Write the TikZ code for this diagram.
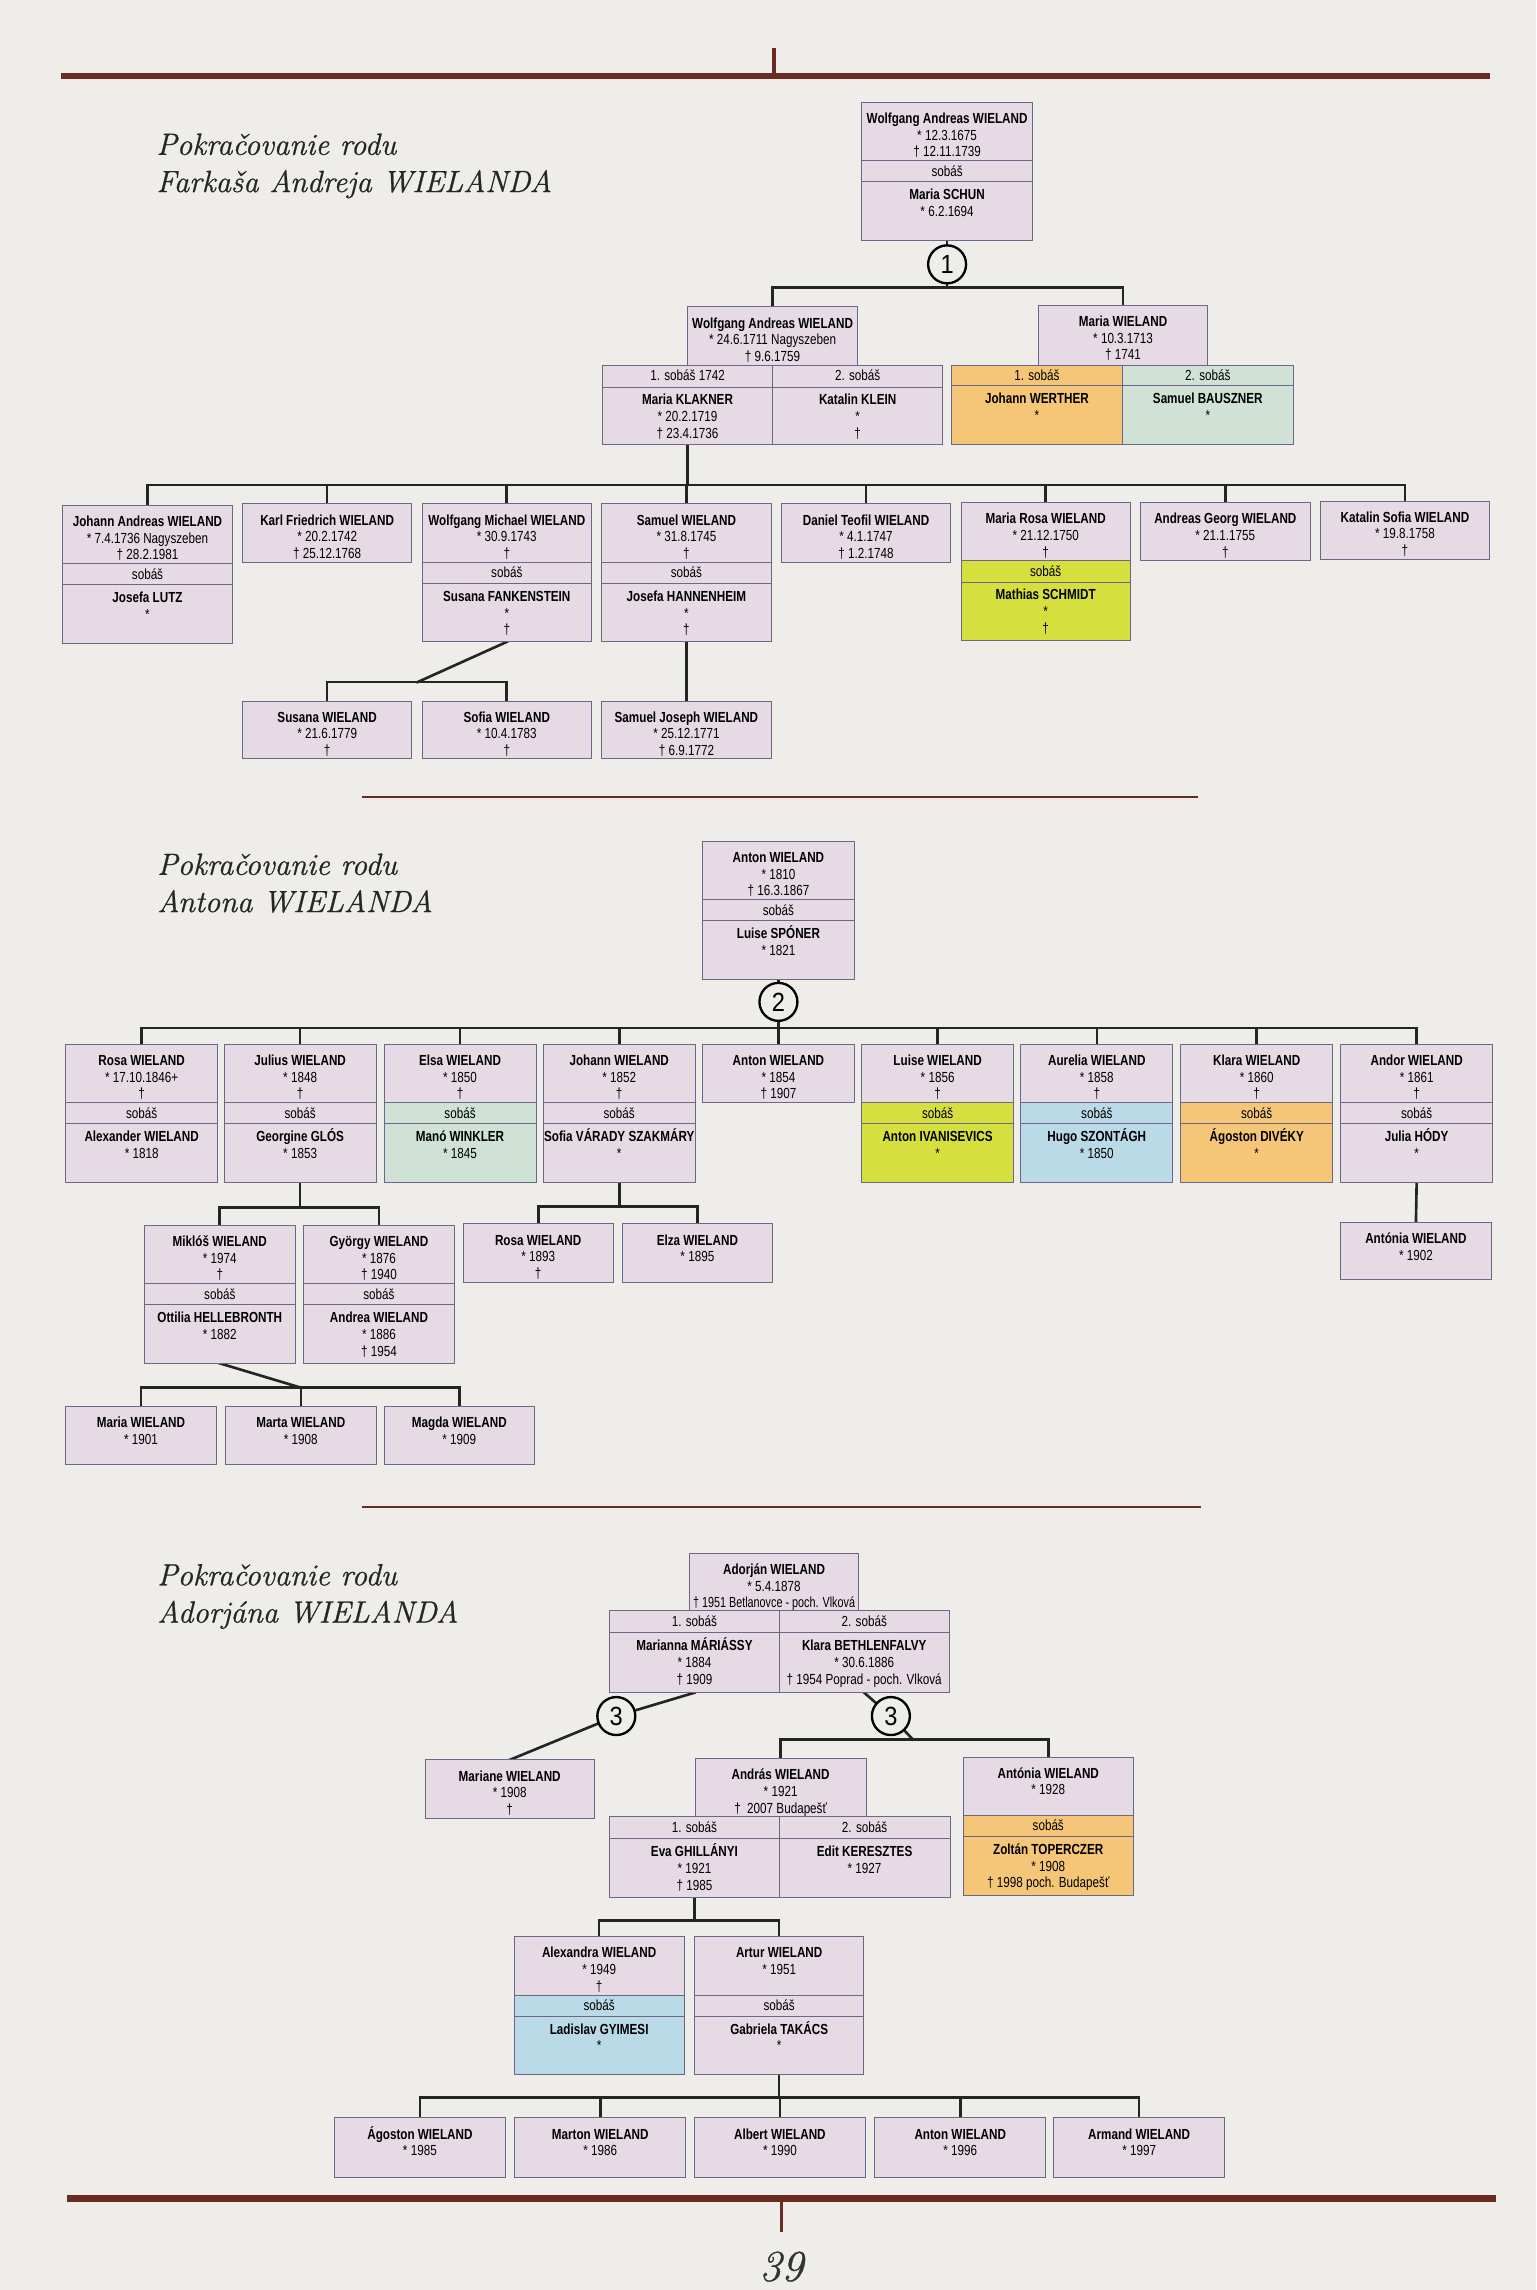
\documentclass[tikz,border=0pt]{standalone}
\usepackage{fontspec}
\newfontfamily\boxfont{Liberation Sans}[FakeStretch=0.8]
\newfontfamily\circfont{Liberation Sans}[FakeStretch=0.9]
\newfontfamily\titlefont{Latin Modern Roman}[FakeBold=0.8]

\definecolor{paper}{HTML}{EEEDEA}
\definecolor{boxfill}{HTML}{E6DAE4}
\definecolor{boxline}{HTML}{6C6786}
\definecolor{orangey}{HTML}{F5C677}
\definecolor{minty}{HTML}{CFE2D5}
\definecolor{limey}{HTML}{D5E03E}
\definecolor{skyey}{HTML}{B9DAE6}
\definecolor{rulec}{HTML}{6A2B22}
\definecolor{linkc}{HTML}{242424}

\pgfdeclarelayer{paperlayer}
\pgfdeclarelayer{wires}
\pgfsetlayers{paperlayer,wires,main}

\tikzset{
  pcell/.style={draw=boxline, fill=#1, line width=0.6pt, inner sep=0pt, outer sep=0pt,
    anchor=north west, font=\boxfont\fontsize{10}{11.4}\selectfont},
  pcell/.default=boxfill,
  link/.style={draw=linkc, line width=1.8pt, line cap=rect},
  circ/.style={circle, draw=black, line width=1.6pt, fill=paper, minimum size=26pt,
    inner sep=0pt, font=\circfont\fontsize{18}{18}\selectfont},
  sect/.style={font=\titlefont\itshape\fontsize{21}{25}\selectfont, text=black!85,
    anchor=base west, inner sep=0pt},
}

% name in bold, cell of fixed size with text from the top
\newcommand{\who}[1]{{\bfseries #1}}
\newcommand{\tight}[1]{{\addfontfeature{FakeStretch=0.74}#1}}
\newcommand{\cbox}[4][14.6]{\parbox[c][#3pt][t]{#2pt}{\centering\rule{0pt}{#1pt}#4}}
\newcommand{\personbox}[6][40]{\node[pcell] (#2) at (#3,#4) {\cbox{#5}{#1}{#6}};}
\newcommand{\couplebox}[7]{%
  \node[pcell] (#1) at (#2,#3) {\cbox{#4}{40}{#6}};
  \node[pcell=#5] (#1m) at (#1.south west) {\cbox[10.6]{#4}{14.5}{sobáš}};
  \node[pcell=#5] (#1s) at (#1m.south west) {\cbox[12.3]{#4}{40}{#7}};}

\begin{document}
\begin{tikzpicture}[x=1pt,y=-1pt]
\begin{pgfonlayer}{paperlayer}
  \fill[paper] (0,0) rectangle (1052,1568);
\end{pgfonlayer}
\useasboundingbox (0,0) rectangle (1052,1568);

% page rules
\draw[rulec, line width=4.5pt] (42,52) -- (1020,52);
\draw[rulec, line width=2.2pt] (530,33) -- (530,52);

% ---- Farkas Andrej
\node[sect] (t1a) at (107,106) {Pokračovanie rodu};
\node[sect] (t1b) at (107,131.5) {Farkaša Andreja WIELANDA};

\couplebox{wa1}{590}{70}{117}{boxfill}{\who{Wolfgang Andreas WIELAND}\\{*} 12.3.1675\\† 12.11.1739}{\who{Maria SCHUN}\\{*} 6.2.1694}
\node[circ] (c1) at (648.5,181) {1};

\personbox{wa2}{471}{210}{116}{\who{Wolfgang Andreas WIELAND}\\{*} 24.6.1711 Nagyszeben\\† 9.6.1759}
\node[pcell] (wa2a) at (412.5,250) {\cbox[10.8]{116.5}{15}{1. sobáš 1742}};
\node[pcell] (wa2b) at (wa2a.north east) {\cbox[10.8]{116.5}{15}{2. sobáš}};
\node[pcell] (klak) at (wa2a.south west) {\cbox[12.3]{116.5}{39}{\who{Maria KLAKNER}\\{*} 20.2.1719\\† 23.4.1736}};
\node[pcell] (klei) at (wa2b.south west) {\cbox[12.3]{116.5}{39}{\who{Katalin KLEIN}\\{*}\\†}};

\personbox[41]{mw}{711}{209}{116}{\who{Maria WIELAND}\\{*} 10.3.1713\\† 1741}
\node[pcell=orangey] (mwa) at (651.5,250) {\cbox[10.6]{117}{14}{1. sobáš}};
\node[pcell=minty] (mwb) at (mwa.north east) {\cbox[10.6]{117}{14}{2. sobáš}};
\node[pcell=orangey] (wert) at (mwa.south west) {\cbox[12.3]{117}{40}{\who{Johann WERTHER}\\{*}}};
\node[pcell=minty] (baus) at (mwb.south west) {\cbox[12.3]{117}{40}{\who{Samuel BAUSZNER}\\{*}}};

\couplebox{ja}{43}{346}{116}{boxfill}{\who{Johann Andreas WIELAND}\\{*} 7.4.1736 Nagyszeben\\† 28.2.1981}{\who{Josefa LUTZ}\\{*}}
\personbox{kf}{166}{345}{116}{\who{Karl Friedrich WIELAND}\\{*} 20.2.1742\\† 25.12.1768}
\couplebox{wm}{289}{345}{116}{boxfill}{\who{Wolfgang Michael WIELAND}\\{*} 30.9.1743\\†}{\who{Susana FANKENSTEIN}\\{*}\\†}
\couplebox{sa}{412}{345}{116}{boxfill}{\who{Samuel WIELAND}\\{*} 31.8.1745\\†}{\who{Josefa HANNENHEIM}\\{*}\\†}
\personbox{dt}{535}{345}{116}{\who{Daniel Teofil WIELAND}\\{*} 4.1.1747\\† 1.2.1748}
\couplebox{mr}{658}{344}{116}{limey}{\who{Maria Rosa WIELAND}\\{*} 21.12.1750\\†}{\who{Mathias SCHMIDT}\\{*}\\†}
\personbox{ag}{781}{344}{116}{\who{Andreas Georg WIELAND}\\{*} 21.1.1755\\†}
\personbox{ks}{904}{343}{116}{\who{Katalin Sofia WIELAND}\\{*} 19.8.1758\\†}

\personbox[39]{su}{166}{480}{116}{\who{Susana WIELAND}\\{*} 21.6.1779\\†}
\personbox[39]{so}{289}{480}{116}{\who{Sofia WIELAND}\\{*} 10.4.1783\\†}
\personbox[39]{sj}{412}{480}{116}{\who{Samuel Joseph WIELAND}\\{*} 25.12.1771\\† 6.9.1772}

\draw[rulec, line width=1.4pt] (248,546) -- (820,546);

% ---- Anton
\node[sect] (t2a) at (107.5,599) {Pokračovanie rodu};
\node[sect] (t2b) at (107.5,624.5) {Antona WIELANDA};

\couplebox{an0}{481}{576}{104}{boxfill}{\who{Anton WIELAND}\\{*} 1810\\† 16.3.1867}{\who{Luise SPÓNER}\\{*} 1821}
\node[circ] (c2) at (533,686) {2};

\couplebox{ro}{45}{715}{104}{boxfill}{\who{Rosa WIELAND}\\{*} 17.10.1846+\\†}{\who{Alexander WIELAND}\\{*} 1818}
\couplebox{ju}{153.5}{715}{104}{boxfill}{\who{Julius WIELAND}\\{*} 1848\\†}{\who{Georgine GLÓS}\\{*} 1853}
\couplebox{el}{263}{715}{104}{minty}{\who{Elsa WIELAND}\\{*} 1850\\†}{\who{Manó WINKLER}\\{*} 1845}
\couplebox{jo}{372}{715}{104}{boxfill}{\who{Johann WIELAND}\\{*} 1852\\†}{\who{Sofia VÁRADY SZAKMÁRY}\\{*}}
\personbox{an1}{481}{715}{104}{\who{Anton WIELAND}\\{*} 1854\\† 1907}
\couplebox{lu}{590}{715}{104}{limey}{\who{Luise WIELAND}\\{*} 1856\\†}{\who{Anton IVANISEVICS}\\{*}}
\couplebox{au}{699}{715}{104}{skyey}{\who{Aurelia WIELAND}\\{*} 1858\\†}{\who{Hugo SZONTÁGH}\\{*} 1850}
\couplebox{kl}{808.5}{715}{104}{orangey}{\who{Klara WIELAND}\\{*} 1860\\†}{\who{Ágoston DIVÉKY}\\{*}}
\couplebox{ad}{918}{715}{104}{boxfill}{\who{Andor WIELAND}\\{*} 1861\\†}{\who{Julia HÓDY}\\{*}}

\couplebox{mi}{99}{839}{103}{boxfill}{\who{Miklóš WIELAND}\\{*} 1974\\†}{\who{Ottilia HELLEBRONTH}\\{*} 1882}
\couplebox{gy}{208}{839}{103}{boxfill}{\who{György WIELAND}\\{*} 1876\\† 1940}{\who{Andrea WIELAND}\\{*} 1886\\† 1954}
\personbox{rz}{317}{838}{103}{\who{Rosa WIELAND}\\{*} 1893\\†}
\personbox{ez}{426}{838}{103}{\who{Elza WIELAND}\\{*} 1895}
\personbox[39]{ant}{918}{837}{103}{\who{Antónia WIELAND}\\{*} 1902}
\personbox{mar}{45}{963}{103}{\who{Maria WIELAND}\\{*} 1901}
\personbox{mrt}{154.5}{963}{103}{\who{Marta WIELAND}\\{*} 1908}
\personbox{mag}{263}{963}{103}{\who{Magda WIELAND}\\{*} 1909}

\draw[rulec, line width=1.4pt] (248,1032) -- (822,1032);

% ---- Adorjan
\node[sect] (t3a) at (107.5,1085.5) {Pokračovanie rodu};
\node[sect] (t3b) at (107.5,1111) {Adorjána WIELANDA};

\personbox[39.5]{ado}{472}{1063.5}{116}{\who{Adorján WIELAND}\\{*} 5.4.1878\\\tight{† 1951 Betlanovce - poch. Vlková}}
\node[pcell] (adoa) at (417.5,1103) {\cbox[10.8]{116}{15}{1. sobáš}};
\node[pcell] (adob) at (adoa.north east) {\cbox[10.8]{116.5}{15}{2. sobáš}};
\node[pcell] (mms) at (adoa.south west) {\cbox[12.3]{116}{41}{\who{Marianna MÁRIÁSSY}\\{*} 1884\\† 1909}};
\node[pcell] (kbf) at (adob.south west) {\cbox[12.3]{116.5}{41}{\who{Klara BETHLENFALVY}\\{*} 30.6.1886\\† 1954 Poprad - poch. Vlková}};
\node[circ] (c3a) at (422,1175) {3};
\node[circ] (c3b) at (610,1175) {3};

\personbox{mne}{291}{1205}{116}{\who{Mariane WIELAND}\\{*} 1908\\†}
\personbox{ans}{476}{1204}{117}{\who{András WIELAND}\\{*} 1921\\†\ \ 2007 Budapešť}
\node[pcell] (ansa) at (417.5,1244) {\cbox[10.8]{116}{15}{1. sobáš}};
\node[pcell] (ansb) at (ansa.north east) {\cbox[10.8]{117}{15}{2. sobáš}};
\node[pcell] (eva) at (ansa.south west) {\cbox[12.3]{116}{40}{\who{Eva GHILLÁNYI}\\{*} 1921\\† 1985}};
\node[pcell] (edk) at (ansb.south west) {\cbox[12.3]{117}{40}{\who{Edit KERESZTES}\\{*} 1927}};
\couplebox{ton}{659.5}{1203}{116.5}{orangey}{\who{Antónia WIELAND}\\{*} 1928}{\who{Zoltán TOPERCZER}\\{*} 1908\\† 1998 poch. Budapešť}

\couplebox{alx}{352}{1326}{116.5}{skyey}{\who{Alexandra WIELAND}\\{*} 1949\\†}{\who{Ladislav GYIMESI}\\{*}}
\couplebox{art}{475.5}{1326}{116}{boxfill}{\who{Artur WIELAND}\\{*} 1951}{\who{Gabriela TAKÁCS}\\{*}}

\foreach \id/\x/\nm/\yr in {ago/229/Ágoston/1985, mtn/352.5/Marton/1986, alb/475.5/Albert/1990, ant2/599/Anton/1996, arm/721.5/Armand/1997}
  \personbox[41]{\id}{\x}{1450}{117}{\who{\nm\ WIELAND}\\{*} \yr};

% connectors
\begin{pgfonlayer}{wires}
  \coordinate (bar0) at (0,197);
  \draw[link] (wa1s.south) -- (c1);
  \draw[link] (c1) -- (c1 |- bar0);
  \draw[link] (wa2.north) -- (wa2.north |- bar0) -- (mw.north |- bar0) -- (mw.north);
  \coordinate (bar1) at (0,332);
  \draw[link] (klak.south) -- (klak.south |- bar1);
  \draw[link] (ja.north |- bar1) -- (ks.north |- bar1);
  \foreach \kid in {ja,kf,wm,sa,dt,mr,ag,ks}
    \draw[link] (\kid.north) -- (\kid.north |- bar1);
  \coordinate (j2) at (286,467);
  \draw[link] (wms.south) -- (j2);
  \draw[link] (su.north) |- (j2) -| (so.north);
  \draw[link] (sas.south) -- (sj.north);

  \coordinate (bar3) at (0,704);
  \draw[link] (an0s.south) -- (c2);
  \draw[link] (c2) -- (c2 |- bar3);
  \draw[link] (ro.north |- bar3) -- (ad.north |- bar3);
  \foreach \kid in {ro,ju,el,jo,an1,lu,au,kl,ad}
    \draw[link] (\kid.north) -- (\kid.north |- bar3);
  \coordinate (bar4) at (0,827);
  \draw[link] (jus.south) -- (jus.south |- bar4);
  \draw[link] (mi.north) -- (mi.north |- bar4) -- (gy.north |- bar4) -- (gy.north);
  \coordinate (bar5) at (0,826);
  \draw[link] (jos.south) -- (jos.south |- bar5);
  \draw[link] (rz.north) -- (rz.north |- bar5) -- (ez.north |- bar5) -- (ez.north);
  \draw[link] (ads.south) -- (ant.north);
  \coordinate (j6) at (205.5,950);
  \draw[link] (mis.south) -- (j6);
  \draw[link] (mar.north) |- (j6) -| (mag.north);
  \draw[link] (mrt.north) -- (mrt.north |- j6);

  \draw[link] (mms.south) -- (c3a) -- (mne.north);
  \coordinate (j7) at (625,1191);
  \draw[link] (kbf.south) -- (c3b) -- (j7);
  \draw[link] (ans.north) |- (j7) -| (ton.north);
  \coordinate (bar8) at (0,1315);
  \draw[link] (eva.south) -- (eva.south |- bar8);
  \draw[link] (alx.north) -- (alx.north |- bar8) -- (art.north |- bar8) -- (art.north);
  \coordinate (bar9) at (0,1436);
  \draw[link] (arts.south) -- (arts.south |- bar9);
  \draw[link] (ago.north |- bar9) -- (arm.north |- bar9);
  \foreach \kid in {ago,mtn,alb,ant2,arm}
    \draw[link] (\kid.north) -- (\kid.north |- bar9);
\end{pgfonlayer}

% page foot
\draw[rulec, line width=4.5pt] (46,1505.5) -- (1024,1505.5);
\draw[rulec, line width=2.2pt] (535,1505.5) -- (535,1528.5);
\node[font=\titlefont\itshape\fontsize{30}{30}\selectfont, text=black!80] (pg) at (535,1552) {39};
\end{tikzpicture}
\end{document}
